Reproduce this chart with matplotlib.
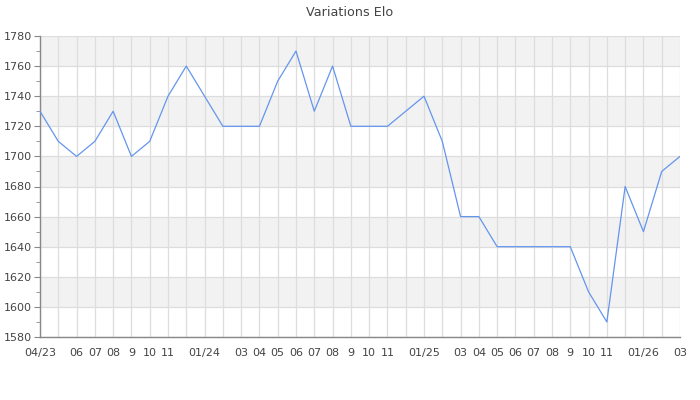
import matplotlib
matplotlib.use("Agg")
import matplotlib.pyplot as plt
from matplotlib.ticker import MultipleLocator

# one value per month, 04/2023 .. 03/2026
months = list(range(36))
elo = [1730, 1710, 1700, 1710, 1730, 1700, 1710, 1740, 1760,
       1740, 1720, 1720, 1720, 1750, 1770, 1730, 1760, 1720, 1720, 1720, 1730,
       1740, 1710, 1660, 1660, 1640, 1640, 1640, 1640, 1640, 1610, 1590, 1680,
       1650, 1690, 1700]
month_labels = ["04/23", "", "06", "07", "08", "9", "10", "11", "",
                "01/24", "", "03", "04", "05", "06", "07", "08", "9", "10", "11", "",
                "01/25", "", "03", "04", "05", "06", "07", "08", "9", "10", "11", "",
                "01/26", "", "03"]

txt = "#444444"
axis_col = "#888888"

fig = plt.figure(figsize=(7, 4), dpi=100)
ax = fig.add_axes([40 / 700, 63 / 400, 640 / 700, 301 / 400])

ymin, ymax = 1580, 1780
ax.set_xlim(months[0], months[-1])
ax.set_ylim(ymin, ymax)

# alternating horizontal bands
for k, lo in enumerate(range(ymax - 20, ymin - 1, -20)):
    if k % 2 == 0:
        ax.axhspan(lo, lo + 20, color="#f2f2f2", zorder=0, lw=0)

ax.set_xticks(months)
ax.set_xticklabels(month_labels)
ax.yaxis.set_major_locator(MultipleLocator(20))
ax.yaxis.set_minor_locator(MultipleLocator(10))
ax.grid(True, which="major", color="#dddddd", lw=0.9, zorder=1)
ax.set_axisbelow(True)

ax.plot(months, elo, color="#6495ed", lw=0.9, zorder=3)

for s in ["top", "right"]:
    ax.spines[s].set_visible(False)
for s in ["left", "bottom"]:
    ax.spines[s].set_color(axis_col)
    ax.spines[s].set_linewidth(1.0)

ax.tick_params(axis="x", length=0, pad=8, labelsize=8, labelcolor=txt)
ax.tick_params(axis="y", which="major", length=4, color=axis_col,
               labelsize=8, labelcolor=txt, pad=2)
ax.tick_params(axis="y", which="minor", length=3, color=axis_col)

fig.text(0.5, 1 - 12 / 400, "Variations Elo", ha="center", va="center",
         fontsize=9.2, color=txt)

fig.savefig("out.png", dpi=100)
